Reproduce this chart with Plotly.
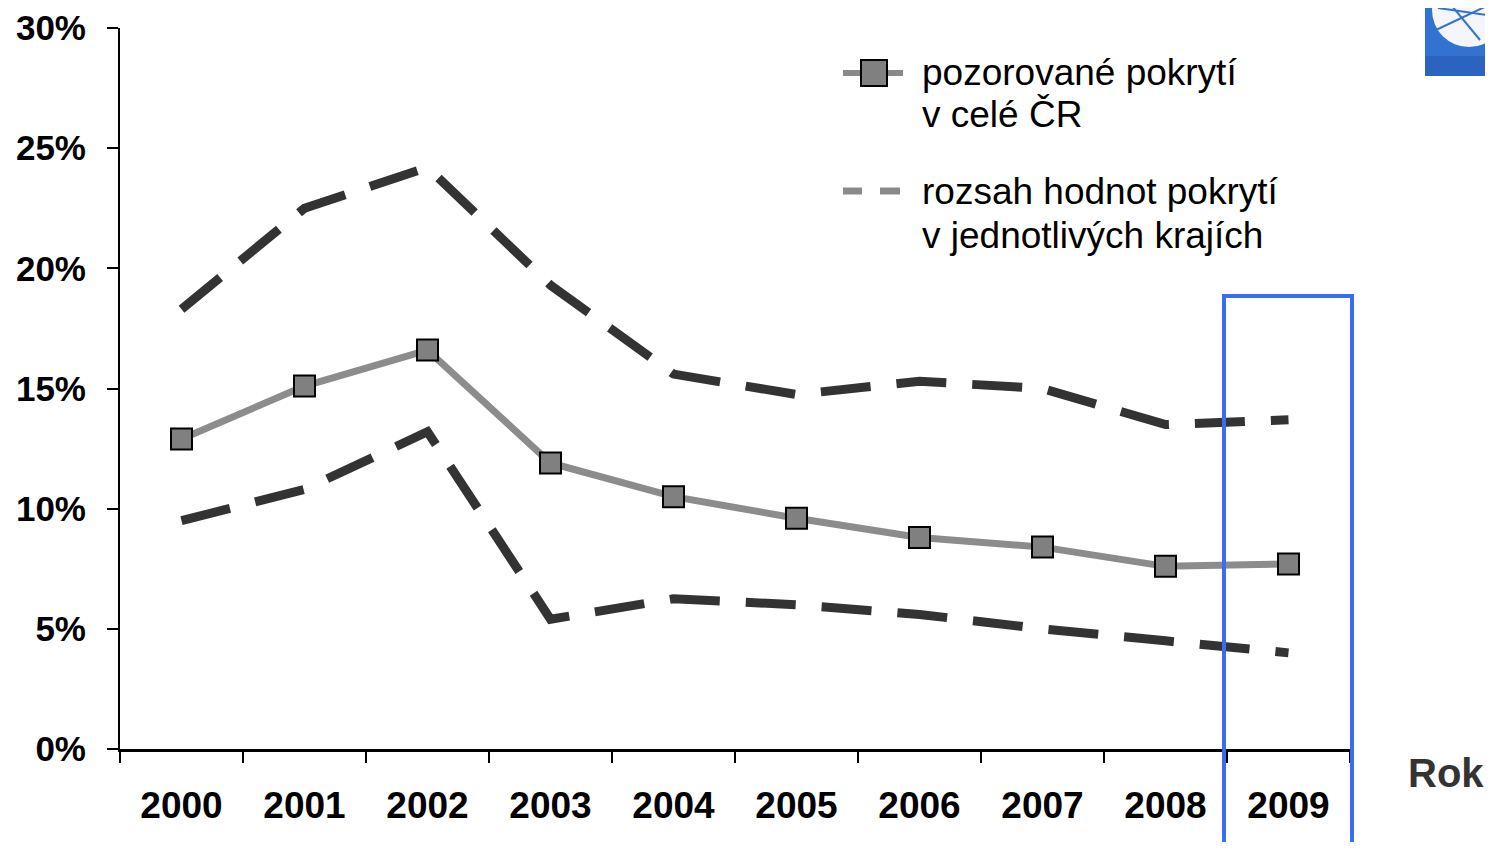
import plotly.graph_objects as go

years = ["2000", "2001", "2002", "2003", "2004", "2005", "2006", "2007", "2008", "2009"]
pozorovane = [12.9, 15.1, 16.6, 11.9, 10.5, 9.6, 8.8, 8.4, 7.6, 7.7]
kraje_max = [18.3, 22.5, 24.2, 19.3, 15.6, 14.75, 15.3, 15.0, 13.5, 13.7]
kraje_min = [9.5, 10.8, 13.2, 5.4, 6.25, 6.0, 5.6, 5.0, 4.5, 4.0]
y_ticks = [0, 5, 10, 15, 20, 25, 30]
y_labels = ["0%", "5%", "10%", "15%", "20%", "25%", "30%"]

OFF = 8  # page body margin
W, H = 1493 - 2 * OFF, 850 - 2 * OFF
L, R, T, B = 120, 1350, 28, 749  # target screen pixels


def px(x):
    return (x - L) / (R - L)


def py(y):
    return (B - y) / (B - T)


fig = go.Figure()

for series in (kraje_max, kraje_min):
    fig.add_trace(go.Scatter(
        x=years, y=series, mode="lines",
        line=dict(color="#333333", width=9, dash="50px,26px"),
        showlegend=False, hoverinfo="skip",
    ))

fig.add_trace(go.Scatter(
    x=years, y=pozorovane, mode="lines+markers",
    line=dict(color="#8c8c8c", width=7),
    marker=dict(symbol="square", size=21, color="#808080",
                line=dict(color="#000000", width=2)),
    showlegend=False,
))

shapes = []
shapes.append(dict(type="rect", xref="paper", yref="paper",
                   x0=px(1224), x1=px(1352), y0=py(846), y1=py(296),
                   line=dict(color="#3a6cf5", width=4), fillcolor="rgba(0,0,0,0)"))
# legend samples
shapes.append(dict(type="line", xref="paper", yref="paper",
                   x0=px(843), x1=px(903), y0=py(73), y1=py(73),
                   line=dict(color="#8a8a8a", width=6)))
shapes.append(dict(type="rect", xref="paper", yref="paper",
                   x0=px(861), x1=px(887), y0=py(86), y1=py(60),
                   line=dict(color="#000000", width=2), fillcolor="#808080"))
shapes.append(dict(type="line", xref="paper", yref="paper",
                   x0=px(843), x1=px(862), y0=py(191), y1=py(191),
                   line=dict(color="#8a8a8a", width=7)))
shapes.append(dict(type="line", xref="paper", yref="paper",
                   x0=px(880), x1=px(900), y0=py(191), y1=py(191),
                   line=dict(color="#8a8a8a", width=7)))
# logo
shapes.append(dict(type="rect", xref="paper", yref="paper",
                   x0=px(1425), x1=px(1493), y0=py(76), y1=py(0),
                   line=dict(width=0), fillcolor="#3273d2", layer="above"))
shapes.append(dict(type="circle", xref="paper", yref="paper",
                   x0=px(1432), x1=px(1506), y0=py(47), y1=py(-27),
                   line=dict(width=0), fillcolor="#f4f6fb", layer="above"))
shapes.append(dict(type="line", xref="paper", yref="paper",
                   x0=px(1436), x1=px(1493), y0=py(30), y1=py(3),
                   line=dict(color="#3273d2", width=2), layer="above"))
shapes.append(dict(type="line", xref="paper", yref="paper",
                   x0=px(1438), x1=px(1493), y0=py(8), y1=py(16),
                   line=dict(color="#3273d2", width=2), layer="above"))
shapes.append(dict(type="line", xref="paper", yref="paper",
                   x0=px(1447), x1=px(1480), y0=py(0), y1=py(40),
                   line=dict(color="#3273d2", width=2), layer="above"))
shapes.append(dict(type="rect", xref="paper", yref="paper",
                   x0=px(1425), x1=px(1493), y0=py(76), y1=py(56),
                   line=dict(width=0), fillcolor="#2b63c0", layer="above"))

legend_lines = [
    ("pozorované pokrytí", 73),
    ("v celé ČR", 115),
    ("rozsah hodnot pokrytí", 191),
    ("v jednotlivých krajích", 235),
]
annotations = [
    dict(xref="paper", yref="paper", x=px(920), y=py(yc), xanchor="left", yanchor="middle",
         text=t, showarrow=False, align="left",
         font=dict(family="Liberation Sans, Arial", size=37, color="#000000"))
    for t, yc in legend_lines
]
annotations.append(
    dict(xref="paper", yref="paper", x=px(1446), y=py(773), xanchor="center", yanchor="middle",
         text="<b>Rok</b>", showarrow=False,
         font=dict(family="Liberation Sans, Arial", size=40, color="#333333")))

fig.update_layout(
    width=W, height=H,
    margin=dict(l=L - OFF, r=(OFF + W) - R, t=T - OFF, b=(OFF + H) - B),
    paper_bgcolor="white", plot_bgcolor="white",
    shapes=shapes, annotations=annotations,
    showlegend=False,
)

fig.update_xaxes(
    type="category", range=[-0.5, 9.5], automargin=False,
    showline=True, linecolor="#000000", linewidth=3,
    ticks="outside", tickson="boundaries", ticklen=11, tickwidth=2, tickcolor="#000000",
    showgrid=False, zeroline=False,
    tickfont=dict(family="Liberation Sans, Arial", size=37, color="#000000", weight="bold"),
    ticklabelstandoff=22,
)
fig.update_yaxes(
    range=[0, 30], tickvals=y_ticks, ticktext=y_labels, automargin=False,
    showline=True, linecolor="#000000", linewidth=2,
    ticks="outside", ticklen=11, tickwidth=2, tickcolor="#000000",
    showgrid=False, zeroline=False,
    tickfont=dict(family="Liberation Sans, Arial", size=35, color="#000000", weight="bold"),
    ticklabelstandoff=14,
)

fig.write_html("out.html")
